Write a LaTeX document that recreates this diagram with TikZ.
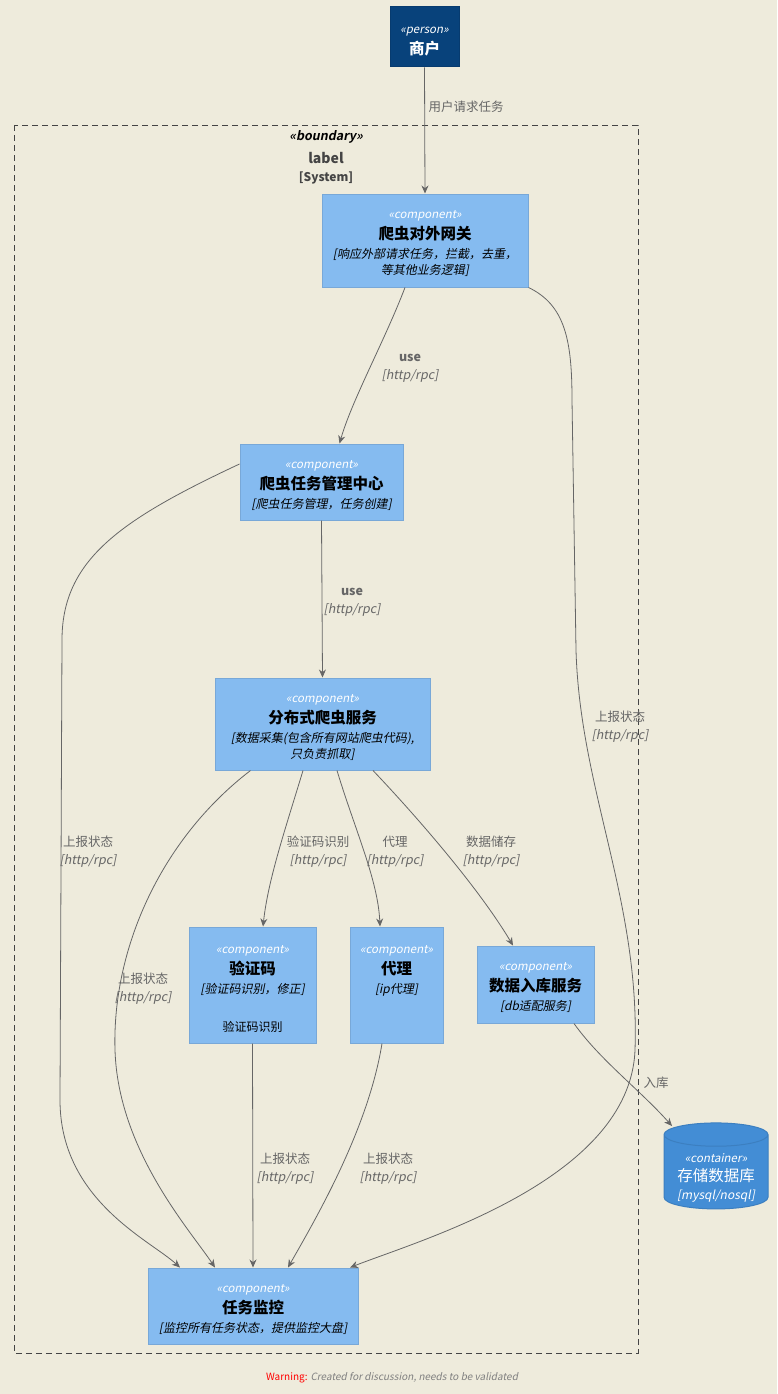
\documentclass[tikz,border=0pt]{standalone}
\usepackage{fontspec}
\setmainfont{Noto Sans CJK SC}[ItalicFont={Noto Sans CJK SC}, ItalicFeatures={FakeSlant=0.2}, BoldItalicFont={Noto Sans CJK SC Bold}, BoldItalicFeatures={FakeSlant=0.2}]
\usetikzlibrary{arrows.meta,shapes.geometric}
\definecolor{bg}{HTML}{EEEBDC}
\definecolor{persfill}{HTML}{08427B}
\definecolor{persdraw}{HTML}{073B6F}
\definecolor{compfill}{HTML}{85BBF0}
\definecolor{compdraw}{HTML}{78A8D8}
\definecolor{dbfill}{HTML}{438DD5}
\definecolor{dbdraw}{HTML}{3C7FC0}
\definecolor{linec}{HTML}{666666}
\definecolor{bnd}{HTML}{444444}
\newcommand{\stereo}[1]{{\fontsize{11.5}{18}\selectfont\itshape\color{white}\rule{0pt}{15pt}«#1»}}
\newcommand{\ttl}[1]{{\fontsize{15.5}{18}\selectfont\bfseries #1}}
\newcommand{\dsc}[1]{{\fontsize{12}{18}\selectfont\itshape #1}}
\tikzset{
  comp/.style={rectangle, draw=compdraw, fill=compfill, line width=1pt, align=center, inner sep=0pt, font=\fontsize{11}{18}\selectfont},
  pers/.style={rectangle, draw=persdraw, fill=persfill, line width=1pt, align=center, inner sep=0pt, text=white, font=\fontsize{11}{18}\selectfont},
  arr/.style={draw=linec, line width=0.8pt, -{Stealth[length=8pt,width=7pt]}},
  lbl/.style={text=linec, font=\fontsize{12.5}{17}\selectfont, align=center, inner sep=0pt},
}
\begin{document}
\begin{tikzpicture}[x=1pt,y=-1pt]
\fill[bg] (0,0) rectangle (777,1394);
\useasboundingbox (0,0) rectangle (777,1394);

% boundary
\draw[bnd, line width=0.8pt, dash pattern=on 6pt off 4pt] (14,125) rectangle (638,1353);
\node[text=black, font=\fontsize{12.5}{14}\selectfont\itshape\bfseries, inner sep=0pt] (bst) at (326,137) {«boundary»};
\node[text=bnd, font=\fontsize{14}{16}\selectfont\bfseries, inner sep=0pt] (blb) at (326,158) {label};
\node[text=bnd, font=\fontsize{12}{14}\selectfont\bfseries, inner sep=0pt] (bsy) at (326,178) {[System]};

% nodes
\node[pers, minimum width=69, minimum height=60] (p) at (424.5,37) {\stereo{person}\\[3pt]\ttl{商户}};
\node[comp, minimum width=206, minimum height=93] (gw) at (425,240.5) {\stereo{component}\\[3pt]\ttl{爬虫对外网关}\\[1pt]\dsc{[响应外部请求任务，拦截，去重，}\\[-2pt]\dsc{等其他业务逻辑]}};
\node[comp, minimum width=163, minimum height=76] (tc) at (321.5,482) {\stereo{component}\\[3pt]\ttl{爬虫任务管理中心}\\[1pt]\dsc{[爬虫任务管理，任务创建]}};
\node[comp, minimum width=215, minimum height=92] (ds) at (322.5,724) {\stereo{component}\\[3pt]\ttl{分布式爬虫服务}\\[1pt]\dsc{[数据采集(包含所有网站爬虫代码),}\\[-2pt]\dsc{只负责抓取]}};
\node[comp, minimum width=127, minimum height=116] (yz) at (252.5,985) {\stereo{component}\\[3pt]\ttl{验证码}\\[1pt]\dsc{[验证码识别，修正]}\\[20pt]{\fontsize{12}{18}\selectfont 验证码识别}};
\node[comp, minimum width=93, minimum height=116] (dl) at (396.5,985) {\stereo{component}\\[3pt]\ttl{代理}\\[1pt]\dsc{[ip代理]}\\[20pt]{\fontsize{12}{18}\selectfont\phantom{验证码识别}}};
\node[comp, minimum width=117, minimum height=77] (rk) at (535.5,984.5) {\stereo{component}\\[3pt]\ttl{数据入库服务}\\[1pt]\dsc{[db适配服务]}};
\node[shape=cylinder, shape border rotate=90, aspect=0.3, draw=dbdraw, fill=dbfill, line width=1pt, minimum width=104, minimum height=86, inner sep=0pt, text=white, font=\fontsize{11}{18}\selectfont] (db) at (716,1172) {\raisebox{-8pt}[0pt][0pt]{\begin{tabular}{@{}c@{}}{\fontsize{11.5}{18}\selectfont\itshape «container»}\\[1pt]{\fontsize{15.5}{18}\selectfont 存储数据库}\\[0pt]{\fontsize{12}{18}\selectfont\itshape [mysql/nosql]}\end{tabular}}};
\node[comp, minimum width=210, minimum height=76] (mon) at (253,1306) {\stereo{component}\\[3pt]\ttl{任务监控}\\[1pt]\dsc{[监控所有任务状态，提供监控大盘]}};

% edges
\draw[arr] (p.south) -- (gw.north);
\node[lbl] (l1) at (466,107) {用户请求任务};

\draw[arr] ([xshift=-20]gw.south) .. controls (385,340) and (352,400) .. ([xshift=18]tc.north);
\node[lbl] (l2) at (410,368) {\textbf{use}\\[1pt]\textit{[http/rpc]}};

\draw[arr] (tc.south) -- (ds.north);
\node[lbl] (l3) at (352,602) {\textbf{use}\\[1pt]\textit{[http/rpc]}};

\draw[arr] ([xshift=-19.5]ds.south) .. controls (285,830) and (268,880) .. ([xshift=10.5]yz.north);
\node[lbl] (l4) at (318,852) {验证码识别\\[1pt]\textit{[http/rpc]}};

\draw[arr] ([xshift=14.5]ds.south) .. controls (355,830) and (378,880) .. ([xshift=-16.5]dl.north);
\node[lbl] (l5) at (395,852) {代理\\[1pt]\textit{[http/rpc]}};

\draw[arr] ([xshift=50.5]ds.south) .. controls (420,820) and (480,890) .. ([xshift=-22.5]rk.north);
\node[lbl] (l6) at (491,852) {数据储存\\[1pt]\textit{[http/rpc]}};

\draw[arr] ([xshift=38.5]rk.south) .. controls (600,1060) and (640,1090) .. (672,1126);
\node[lbl] (l7) at (656,1083) {入库};

\draw[arr] ([yshift=18]tc.west) .. controls (120,520) and (62,560) .. (62,640) -- (60,1100) .. controls (60,1200) and (150,1240) .. ([xshift=-73]mon.north);
\node[lbl] (l8) at (88,852) {上报状态\\[1pt]\textit{[http/rpc]}};

\draw[arr] ([xshift=-72]ds.south) .. controls (160,840) and (112,950) .. (115,1050) .. controls (118,1150) and (190,1230) .. ([xshift=-38]mon.north);
\node[lbl] (l9) at (143,989) {上报状态\\[1pt]\textit{[http/rpc]}};

\draw[arr] (yz.south) -- ([xshift=0]mon.north);
\node[lbl] (l10) at (285,1169) {上报状态\\[1pt]\textit{[http/rpc]}};

\draw[arr] ([xshift=-14.5]dl.south) .. controls (368,1130) and (315,1220) .. ([xshift=35]mon.north);
\node[lbl] (l11) at (388,1169) {上报状态\\[1pt]\textit{[http/rpc]}};

\draw[arr] (gw.south east) .. controls (565,305) and (572,340) .. (572,400) -- (576,650) .. controls (580,790) and (640,900) .. (635,1050) .. controls (630,1180) and (420,1240) .. ([xshift=97]mon.north);
\node[lbl] (l12) at (620,727) {上报状态\\[1pt]\textit{[http/rpc]}};

% warning
\node[inner sep=0pt, font=\fontsize{10}{12}\selectfont] (warn) at (392,1378) {\textcolor{red}{Warning:} \textcolor{gray}{\itshape Created for discussion, needs to be validated}};
\end{tikzpicture}
\end{document}
